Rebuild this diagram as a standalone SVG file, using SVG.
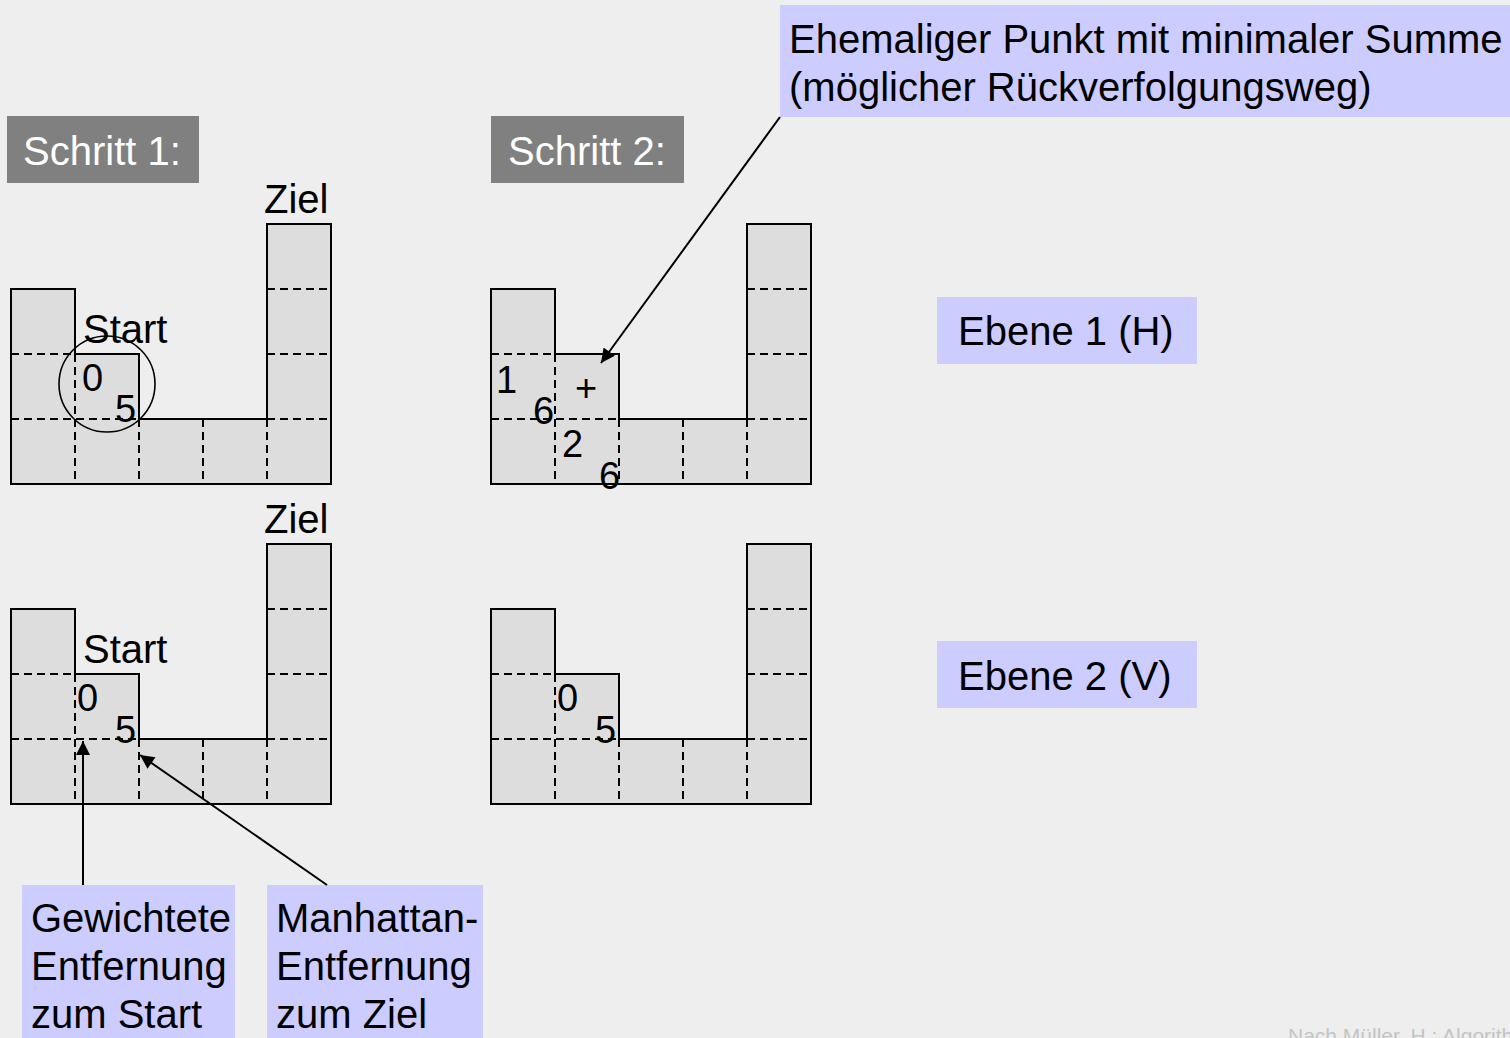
<svg xmlns="http://www.w3.org/2000/svg" xmlns:xlink="http://www.w3.org/1999/xlink" width="1510" height="1038" viewBox="0 0 1510 1038">
<style>
text{font-family:"Liberation Sans",Arial,sans-serif;fill:#000}
.t40{font-size:40px}
.d{font-size:38px}
.wh{fill:#fff}
.grey{fill:#808080}
.call{fill:#ccccff}
.cell{fill:#dddddd;stroke:none}
.dash{fill:none;stroke:#000;stroke-width:2;stroke-dasharray:8 5}
.out{fill:none;stroke:#000;stroke-width:2;stroke-linejoin:miter}
.conn{fill:none;stroke:#000;stroke-width:2}
.foot{font-size:21px;fill:#c4c4c4}
</style>
<defs>
<marker id="ah" viewBox="0 0 10 10" refX="10" refY="5" markerWidth="8" markerHeight="7" markerUnits="strokeWidth" orient="auto">
<path d="M0,0 L10,5 L0,10 Z" fill="#000"/>
</marker>
<g id="grid">
<path class="cell" d="M0,65 H64 V130 H128 V195 H256 V0 H320 V260 H0 Z"/>
<path class="dash" d="M0,130 H64 M0,195 H128 M256,65 H320 M256,130 H320 M256,195 H320 M64,130 V260 M128,195 V260 M192,195 V260 M256,195 V260"/>
<path class="out" d="M0,65 H64 V130 H128 V195 H256 V0 H320 V260 H0 Z"/>
</g>
</defs>
<rect width="1510" height="1038" fill="#eeeeee"/>

<g id="schritt1">
<rect class="grey" x="7" y="116" width="192" height="67"/>
<text class="t40 wh" x="23" y="165">Schritt 1:</text>
</g>
<g id="schritt2">
<rect class="grey" x="491" y="116" width="193" height="67"/>
<text class="t40 wh" x="508" y="165">Schritt 2:</text>
</g>

<g id="grid-s1-h">
<use xlink:href="#grid" x="11" y="224"/>
<text class="t40" x="264" y="213">Ziel</text>
<text class="t40" x="83" y="343">Start</text>
<circle cx="107" cy="384" r="48" fill="none" stroke="#000" stroke-width="1.6"/>
<text class="d" x="82" y="391">0</text>
<text class="d" x="115" y="422">5</text>
</g>

<g id="grid-s2-h">
<use xlink:href="#grid" x="491" y="224"/>
<text class="d" x="496" y="393">1</text>
<text class="d" x="533" y="424">6</text>
<text class="d" x="575" y="401">+</text>
<text class="d" x="562" y="457">2</text>
<text class="d" x="599" y="489">6</text>
</g>

<g id="grid-s1-v">
<use xlink:href="#grid" x="11" y="544"/>
<text class="t40" x="264" y="533">Ziel</text>
<text class="t40" x="83" y="663">Start</text>
<text class="d" x="77" y="711">0</text>
<text class="d" x="115" y="743">5</text>
</g>

<g id="grid-s2-v">
<use xlink:href="#grid" x="491" y="544"/>
<text class="d" x="557" y="711">0</text>
<text class="d" x="595" y="743">5</text>
</g>

<g id="label-ehemaliger">
<rect class="call" x="780" y="5" width="730" height="112"/>
<text class="t40" x="789" y="53">Ehemaliger Punkt mit minimaler Summe</text>
<text class="t40" x="789" y="101">(möglicher Rückverfolgungsweg)</text>
</g>

<g id="label-ebene1">
<rect class="call" x="937" y="297" width="260" height="67"/>
<text class="t40" x="958" y="345">Ebene 1 (H)</text>
</g>

<g id="label-ebene2">
<rect class="call" x="937" y="641" width="260" height="67"/>
<text class="t40" x="958" y="690">Ebene 2 (V)</text>
</g>

<g id="label-gewichtete">
<rect class="call" x="22" y="885" width="213" height="153"/>
<text class="t40" x="31" y="932">Gewichtete</text>
<text class="t40" x="31" y="980">Entfernung</text>
<text class="t40" x="31" y="1028">zum Start</text>
</g>

<g id="label-manhattan">
<rect class="call" x="267" y="885" width="216" height="153"/>
<text class="t40" x="276" y="932">Manhattan-</text>
<text class="t40" x="276" y="980">Entfernung</text>
<text class="t40" x="276" y="1028">zum Ziel</text>
</g>

<g id="connectors">
<line class="conn" x1="780" y1="117" x2="601" y2="363" marker-end="url(#ah)"/>
<line class="conn" x1="83" y1="885" x2="83" y2="741" marker-end="url(#ah)"/>
<line class="conn" x1="327" y1="885" x2="140" y2="755" marker-end="url(#ah)"/>
</g>

<text class="foot" x="1288" y="1043">Nach Müller, H.: Algorithmen</text>
</svg>
